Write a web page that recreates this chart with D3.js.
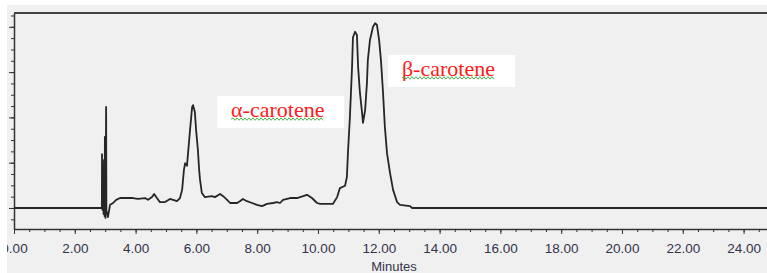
<!DOCTYPE html>
<html>
<head>
<meta charset="utf-8">
<script src="https://cdn.jsdelivr.net/npm/d3@7"></script>
<style>
  body { margin: 0; background: #fff; }
  svg { display: block; }
</style>
</head>
<body>
<div id="vis"></div>
<script>
// chromatogram trace, time in minutes and detector response (AU)
const timeMin = [0, 2.86, 2.89, 2.895, 2.91, 2.93, 2.945, 2.96, 2.98, 2.99, 3.01, 3.03, 3.04, 3.06, 3.09,
  3.16, 3.26, 3.36, 3.49, 3.91, 4.08, 4.31, 4.41, 4.54, 4.61, 4.70, 4.80, 4.97, 5.13, 5.36, 5.46,
  5.53, 5.59, 5.63, 5.69, 5.79, 5.86, 5.89, 5.95, 5.99, 6.05, 6.09, 6.12, 6.18, 6.28, 6.51, 6.61,
  6.78, 6.88, 7.01, 7.11, 7.34, 7.43, 7.53, 7.66, 7.83, 7.99, 8.16, 8.32, 8.52, 8.65, 8.75, 8.85,
  9.08, 9.31, 9.51, 9.64, 9.80, 9.97, 10.07, 10.49, 10.63, 10.72, 10.89, 10.95, 10.99, 11.05, 11.12,
  11.15, 11.22, 11.28, 11.32, 11.38, 11.45, 11.48, 11.55, 11.61, 11.64, 11.71, 11.81, 11.88, 11.94,
  12.01, 12.07, 12.14, 12.20, 12.27, 12.37, 12.47, 12.60, 12.70, 13.03, 13.09, 24.77];
const absorb = [0, 0, 0, 0.119, -0.004, 0.090, -0.013, 0.106, -0.018, 0.157, -0.022, 0.223, -0.013, -0.009, -0.020,
  0.007, 0.011, 0.018, 0.022, 0.022, 0.020, 0.022, 0.018, 0.024, 0.031, 0.022, 0.013, 0.013, 0.020, 0.015, 0.022,
  0.040, 0.084, 0.099, 0.093, 0.172, 0.223, 0.227, 0.212, 0.172, 0.128, 0.084, 0.062, 0.033, 0.024, 0.026, 0.024,
  0.031, 0.026, 0.018, 0.011, 0.011, 0.015, 0.020, 0.015, 0.011, 0.007, 0.004, 0.009, 0.011, 0.013, 0.011, 0.018,
  0.022, 0.022, 0.026, 0.029, 0.022, 0.011, 0.009, 0.009, 0.024, 0.044, 0.049, 0.068, 0.128, 0.201, 0.311,
  0.377, 0.389, 0.382, 0.311, 0.254, 0.210, 0.188, 0.216, 0.276, 0.327, 0.371, 0.400, 0.408, 0.404,
  0.371, 0.327, 0.254, 0.179, 0.121, 0.077, 0.040, 0.013, 0.007, 0.004, 0, 0];

const xMajorTicks = [0, 2, 4, 6, 8, 10, 12, 14, 16, 18, 20, 22, 24];
const xMinorTicks = d3.range(0, 24.6, 0.5);
const yMajorTicks = [0, 0.1, 0.2, 0.3, 0.4];
const yMinorTicks = d3.range(-0.025, 0.43, 0.025);

const peakNames = ["α-carotene", "β-carotene"];
const peakBoxTime = [6.68, 12.30];   // left edge of the label box (min)
const peakBoxAbs = [0.247, 0.338];   // top edge of the label box (AU)

const WIDTH = 767, HEIGHT = 273;
const PLOT = {left: 14, right: 767, top: 13, bottom: 229};

const svg = d3.select("#vis").append("svg")
  .attr("width", WIDTH)
  .attr("height", HEIGHT);

svg.append("defs").append("clipPath").attr("id", "clip")
  .append("rect").attr("x", 7).attr("y", 5).attr("width", 760).attr("height", 268);

const g = svg.append("g").attr("clip-path", "url(#clip)");

g.append("rect")
  .attr("x", 7).attr("y", 5).attr("width", 760).attr("height", 268)
  .attr("fill", "#f0f0f0");

const X = d3.scaleLinear().domain([0, 24.77]).range([PLOT.left, PLOT.right]);
const Y = d3.scaleLinear().domain([-0.0464, 0.4305]).range([PLOT.bottom, PLOT.top]);

// x axis: minor then major ticks
g.append("g")
  .attr("transform", "translate(0," + PLOT.bottom + ")")
  .call(d3.axisBottom(X).tickValues(xMinorTicks).tickSize(3).tickFormat(""))
  .call(a => a.select(".domain").remove())
  .selectAll("line").attr("stroke", "#333");

const xAx = g.append("g")
  .attr("transform", "translate(0," + PLOT.bottom + ")")
  .call(d3.axisBottom(X).tickValues(xMajorTicks).tickSize(5).tickSizeOuter(0).tickPadding(9)
    .tickFormat(d3.format(".2f")));
xAx.select(".domain").attr("stroke", "#333").attr("stroke-width", 1.6);
xAx.selectAll("line").attr("stroke", "#333");
xAx.selectAll("text")
  .attr("font-family", "Liberation Sans, Arial, sans-serif")
  .attr("font-size", "13.5px")
  .attr("fill", "#33334a");

// y axis, labels fall outside the picture
g.append("g")
  .attr("transform", "translate(" + PLOT.left + ",0)")
  .call(d3.axisLeft(Y).tickValues(yMinorTicks).tickSize(3).tickFormat(""))
  .call(a => a.select(".domain").remove())
  .selectAll("line").attr("stroke", "#333");

const yAx = g.append("g")
  .attr("transform", "translate(" + PLOT.left + ",0)")
  .call(d3.axisLeft(Y).tickValues(yMajorTicks).tickSize(5).tickSizeOuter(0).tickFormat(""));
yAx.select(".domain").attr("stroke", "#333").attr("stroke-width", 1.5);
yAx.selectAll("line").attr("stroke", "#333");

// top frame line
g.append("line")
  .attr("x1", PLOT.left).attr("x2", PLOT.right)
  .attr("y1", PLOT.top).attr("y2", PLOT.top)
  .attr("stroke", "#444").attr("stroke-width", 2);

// x axis title
g.append("text")
  .attr("x", 394).attr("y", 271)
  .attr("text-anchor", "middle")
  .attr("font-family", "Liberation Sans, Arial, sans-serif")
  .attr("font-size", "13px")
  .attr("fill", "#33334a")
  .text("Minutes");

// the trace
const trace = timeMin.map((t, i) => [t, absorb[i]]);
g.append("path")
  .datum(trace)
  .attr("fill", "none")
  .attr("stroke", "#262626")
  .attr("stroke-width", 1.8)
  .attr("stroke-linejoin", "round")
  .attr("d", d3.line().x(d => X(d[0])).y(d => Y(d[1])));

// peak labels in white boxes, with the spell-check squiggle
function squiggle(x0, x1, yy) {
  let p = "M" + x0 + "," + yy;
  let up = true;
  for (let xx = x0 + 2; xx <= x1; xx += 2) {
    p += "L" + xx + "," + (up ? yy - 1.2 : yy + 1.2);
    up = !up;
  }
  return p;
}

peakNames.forEach((name, i) => {
  const bx = X(peakBoxTime[i]), by = Y(peakBoxAbs[i]);
  g.append("rect")
    .attr("x", bx).attr("y", by).attr("width", 127).attr("height", 32)
    .attr("fill", "#fff");
  const t = g.append("text")
    .attr("x", bx + 14).attr("y", by + 21)
    .attr("font-family", "Liberation Serif, Times New Roman, serif")
    .attr("font-size", "22px")
    .attr("fill", "#ff1a1a")
    .text(name);
  const w = t.node().getComputedTextLength();
  g.append("path")
    .attr("d", squiggle(bx + 14, bx + 14 + w, by + 23))
    .attr("fill", "none")
    .attr("stroke", "#3aa33a")
    .attr("stroke-width", 0.9);
});
</script>
</body>
</html>
